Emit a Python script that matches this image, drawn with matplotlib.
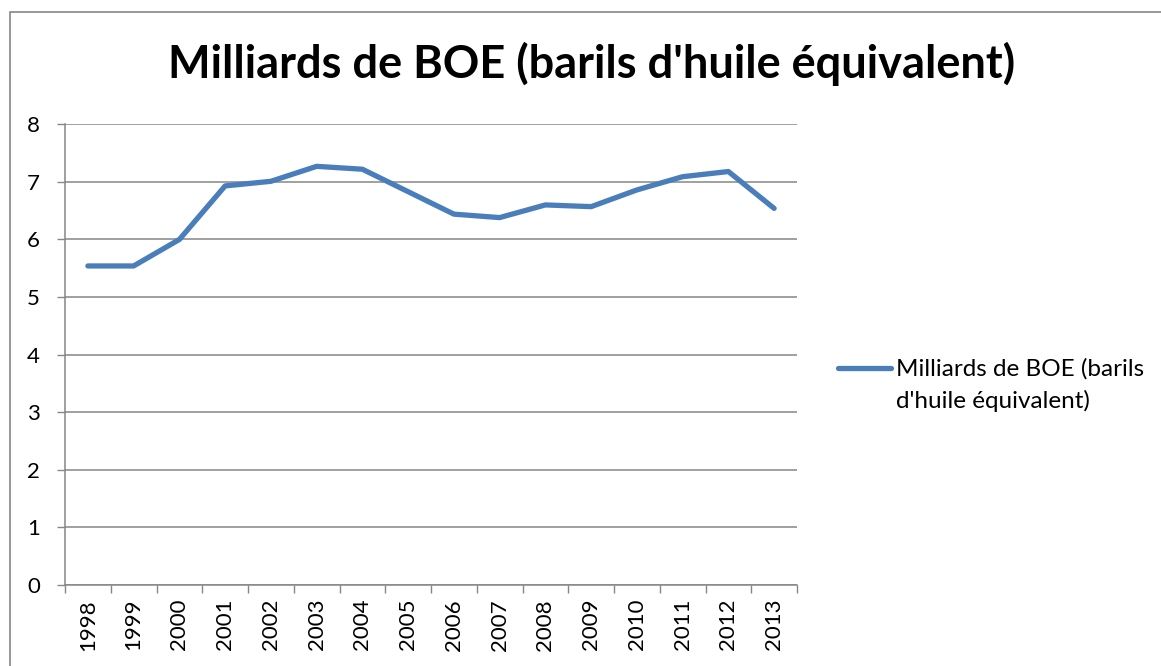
import matplotlib
matplotlib.use("Agg")
import matplotlib.pyplot as plt
from matplotlib.lines import Line2D
from matplotlib.patches import Rectangle

years = [str(y) for y in range(1998, 2014)]
boe = [5.54, 5.54, 6.00, 6.93, 7.01, 7.27, 7.22, 6.83, 6.44, 6.38,
       6.60, 6.57, 6.86, 7.09, 7.18, 6.54]
series_name = "Milliards de BOE (barils d'huile équivalent)"
legend_text = "Milliards de BOE (barils\nd'huile équivalent)"

W, H = 1161, 666
plt.rcParams["font.family"] = ["Lato", "DejaVu Sans"]

fig = plt.figure(figsize=(W / 100, H / 100), dpi=100)
ax = fig.add_axes([65 / W, 1 - 585 / H, (797 - 65) / W, (585 - 124.3) / H])

grid_col = "#868686"
line_col = "#4A7EBB"

x = list(range(len(years)))
ax.plot(x, boe, color=line_col, linewidth=3.8, solid_capstyle="round",
        solid_joinstyle="round", zorder=3)

ax.set_xlim(-0.5, len(years) - 0.5)
ax.set_ylim(0, 8)
ax.set_yticks(range(0, 9))
ax.yaxis.grid(True, color=grid_col, linewidth=1.1)
ax.set_axisbelow(True)

# category ticks at boundaries, labels at centres
ax.set_xticks([i - 0.5 for i in range(len(years) + 1)])
ax.set_xticklabels([])
ax.set_xticks(x, minor=True)
ax.set_xticklabels(years, minor=True, rotation=90, fontsize=16)
ax.tick_params(axis="x", which="major", length=6, color=grid_col, width=1)
ax.tick_params(axis="x", which="minor", length=0, pad=10)
ax.tick_params(axis="y", length=6, color=grid_col, width=1, labelsize=16, pad=12)

for s in ["top", "right"]:
    ax.spines[s].set_visible(False)
for s in ["left", "bottom"]:
    ax.spines[s].set_color(grid_col)
    ax.spines[s].set_linewidth(1.1)

fig.text(592 / W, 1 - 64 / H, series_name, ha="center", va="center",
         fontsize=32.5, fontweight="bold")

# legend
ly = 1 - 368 / H
fig.add_artist(Line2D([838 / W, 891 / W], [ly, ly], color=line_col,
                      linewidth=3.8, solid_capstyle="round"))
fig.text(896 / W, ly + 0.015, legend_text, ha="left", va="top",
         fontsize=17.5, linespacing=1.6, transform=fig.transFigure)

# chart border
fig.add_artist(Rectangle((9.5 / W, -0.1), 1.2, 1 - 12 / H + 0.1,
                         transform=fig.transFigure, fill=False,
                         edgecolor=grid_col, linewidth=1.2))

fig.savefig("out.png", dpi=100)
